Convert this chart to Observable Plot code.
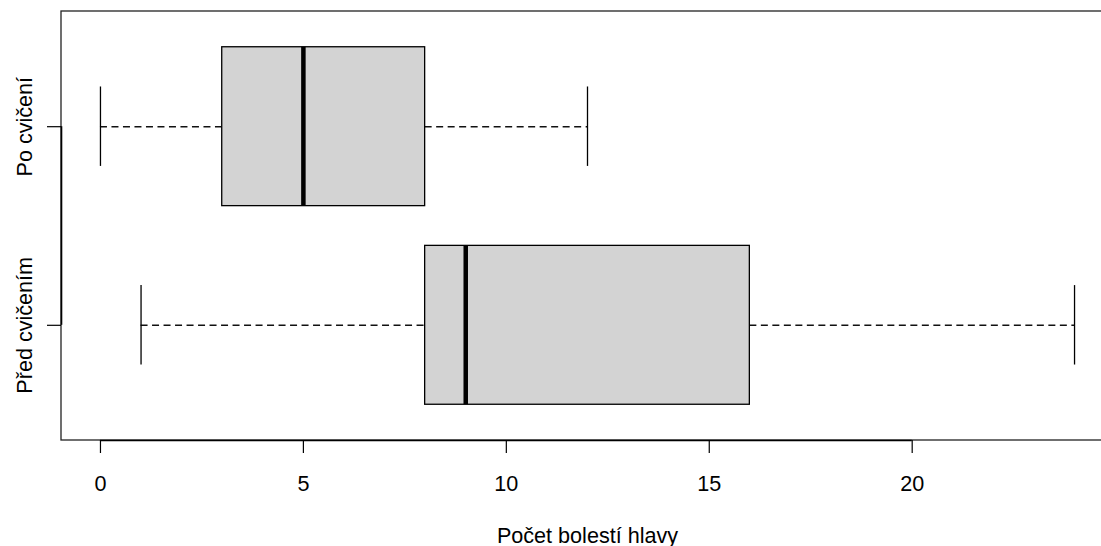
<!DOCTYPE html>
<html>
<head>
<meta charset="utf-8">
<script src="https://cdn.jsdelivr.net/npm/d3@7"></script>
<script src="https://cdn.jsdelivr.net/npm/@observablehq/plot@0.6"></script>
<style>
  html, body { margin: 0; padding: 0; background: #fff; }
  svg { display: block; }
</style>
</head>
<body>
<div id="chart"></div>
<script>
// Data
const groups   = ["Před cvičením", "Po cvičení"];
const positions = [1, 2];
const mins     = [1, 0];
const q1s      = [8, 3];
const medians  = [9, 5];
const q3s      = [16, 8];
const maxs     = [24, 12];
const xTicks   = [0, 5, 10, 15, 20];
const xLabel   = "Počet bolestí hlavy";

const rows = groups.map((g, i) => ({
  group: g, pos: positions[i], min: mins[i], q1: q1s[i],
  median: medians[i], q3: q3s[i], max: maxs[i]
}));

// R-style extended limits (4% padding)
const xDomain = [-0.96, 24.96];
const yDomain = [0.42, 2.58];
const font = "'Liberation Sans', Arial, Helvetica, sans-serif";
const fs = 21.6;

const chart = Plot.plot({
  width: 1101,
  height: 546,
  marginLeft: 61,
  marginTop: 11,
  marginBottom: 106,
  marginRight: 0,
  style: { fontFamily: font, fontSize: fs + "px", background: "#fff", color: "#000" },
  x: { domain: xDomain, range: [61, 1113] },
  y: { domain: yDomain, range: [440, 11] },
  marks: [
    // whiskers
    Plot.ruleY(rows, { y: "pos", x1: "min", x2: "q1", stroke: "#111", strokeWidth: 1.4, strokeDasharray: "7,4.5" }),
    Plot.ruleY(rows, { y: "pos", x1: "q3", x2: "max", stroke: "#111", strokeWidth: 1.4, strokeDasharray: "7,4.5" }),
    // whisker caps
    Plot.ruleX(rows, { x: "min", y1: d => d.pos - 0.2, y2: d => d.pos + 0.2, stroke: "#000", strokeWidth: 1.3 }),
    Plot.ruleX(rows, { x: "max", y1: d => d.pos - 0.2, y2: d => d.pos + 0.2, stroke: "#000", strokeWidth: 1.3 }),
    // boxes
    Plot.rect(rows, { x1: "q1", x2: "q3", y1: d => d.pos - 0.4, y2: d => d.pos + 0.4, fill: "#d3d3d3", stroke: "#000", strokeWidth: 1.3 }),
    // medians
    Plot.ruleX(rows, { x: "median", y1: d => d.pos - 0.4, y2: d => d.pos + 0.4, stroke: "#000", strokeWidth: 4.5 }),
    // plot frame (right side runs off the canvas as in the reference)
    Plot.rect([{ x1: xDomain[0], x2: xDomain[1], y1: yDomain[0], y2: yDomain[1] }],
      { x1: "x1", x2: "x2", y1: "y1", y2: "y2", fill: "none", stroke: "#222", strokeWidth: 1.3 }),
    // axis lines spanning the ticks
    Plot.ruleY([yDomain[0]], { x1: xTicks[0], x2: xTicks[xTicks.length - 1], stroke: "#000", strokeWidth: 1.6 }),
    Plot.ruleX([xDomain[0]], { y1: positions[0], y2: positions[positions.length - 1], stroke: "#000", strokeWidth: 1.6 }),
    // axes
    Plot.axisX({ ticks: xTicks, tickSize: 13, tickPadding: 22, label: null, fontSize: fs, stroke: "#000", strokeWidth: 1.2 }),
    Plot.axisY({ ticks: positions, tickFormat: d => groups[positions.indexOf(d)], tickSize: 14, tickPadding: 16,
                 tickRotate: -90, label: null, fontSize: fs, stroke: "#000", strokeWidth: 1.2 }),
    // x axis title
    Plot.text([xLabel], { x: (xDomain[0] + xDomain[1]) / 2, frameAnchor: "bottom", text: d => d,
                          dy: 102, lineAnchor: "bottom", fontSize: fs, fill: "#000" })
  ]
});

document.getElementById("chart").appendChild(chart);
</script>
</body>
</html>
